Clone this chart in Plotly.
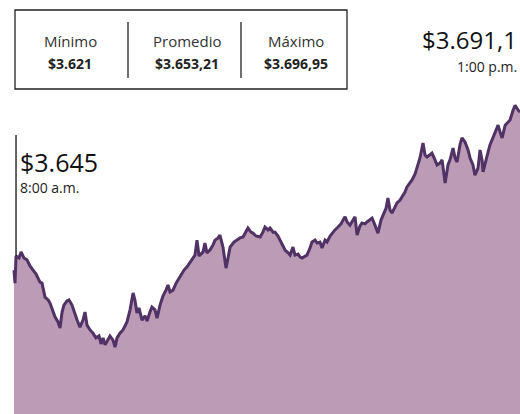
import plotly.graph_objects as go

# minutes after 8:00 a.m.
minutes = [0, 0.6, 1.2, 3.0, 4.2, 5.9, 7.7, 9.5, 11.3, 13.0, 15.4, 16.6, 18.4, 20.2, 21.3, 23.1, 24.3, 26.1, 27.3, 28.5,
           29.6, 31.4, 32.6, 34.4, 36.2, 37.4, 39.1, 40.9, 42.1, 43.3, 45.1, 46.8, 48.6, 50.4, 51.6, 52.8, 54.0, 55.7, 56.9, 58.7,
           59.9, 61.1, 62.8, 64.6, 67.0, 68.8, 70.6, 71.7, 72.9, 74.1, 75.9, 77.7, 78.9, 80.6, 81.8, 83.6, 84.8, 86.6, 88.3, 90.1,
           91.3, 92.5, 94.3, 96.1, 98.4, 100.8, 102.6, 104.3, 106.1, 107.3, 108.5, 109.7, 112.1, 113.2, 114.4, 116.2, 118.0, 119.2, 121.0, 122.1,
           123.9, 125.7, 126.9, 128.1, 130.4, 132.2, 134.0, 135.8, 137.6, 138.7, 140.5, 141.7, 143.5, 145.9, 147.6, 148.8, 150.6, 151.8, 153.6, 154.8,
           156.5, 157.7, 159.5, 160.7, 162.5, 163.7, 165.4, 166.6, 168.4, 169.6, 170.8, 172.5, 173.7, 175.5, 176.7, 178.5, 179.7, 181.4, 182.6, 184.4,
           185.6, 187.4, 188.6, 190.3, 192.1, 193.9, 195.1, 196.3, 197.5, 199.2, 201.0, 202.2, 203.4, 205.1, 206.3, 208.1, 209.3, 211.1, 212.3, 214.0,
           215.8, 217.6, 218.8, 220.6, 221.7, 222.9, 224.1, 225.9, 227.1, 228.9, 230.1, 231.8, 233.0, 234.8, 236.0, 237.8, 239.0, 240.7, 242.5, 243.7,
           244.9, 246.7, 247.8, 249.6, 250.8, 252.6, 253.8, 255.6, 257.3, 258.5, 260.3, 261.5, 262.7, 264.4, 265.6, 267.4, 269.2, 270.4, 272.1, 273.3,
           275.1, 276.3, 277.5, 278.1, 279.9, 281.1, 282.2, 284.0, 285.8, 287.0, 288.2, 289.4, 291.2, 292.9, 294.1, 295.9, 297.1, 298.9, 300.0]

prices = [3645.2, 3641.1, 3649.6, 3649.0, 3650.9, 3649.0, 3648.4, 3646.5, 3645.2, 3644.0, 3641.4, 3641.1, 3636.7, 3635.8, 3634.9, 3632.0, 3630.5, 3628.9, 3627.0, 3632.0,
          3634.2, 3635.5, 3635.8, 3634.2, 3631.1, 3629.5, 3627.3, 3629.5, 3632.0, 3627.9, 3626.4, 3625.4, 3623.9, 3624.5, 3622.0, 3623.9, 3621.7, 3623.2, 3624.5, 3623.2,
          3621.0, 3623.9, 3625.4, 3626.4, 3628.9, 3632.7, 3638.0, 3635.8, 3631.7, 3633.3, 3629.5, 3630.8, 3629.2, 3632.0, 3633.6, 3632.7, 3630.1, 3634.2, 3637.0, 3638.9,
          3640.5, 3638.3, 3638.9, 3641.1, 3643.0, 3645.2, 3646.2, 3647.7, 3649.0, 3649.9, 3654.6, 3649.6, 3650.9, 3653.7, 3650.6, 3651.5, 3653.1, 3654.6, 3655.3, 3656.2,
          3652.4, 3645.8, 3649.0, 3652.4, 3654.0, 3654.6, 3655.3, 3655.6, 3657.1, 3658.4, 3657.1, 3656.8, 3655.9, 3655.6, 3657.1, 3658.7, 3657.8, 3658.4, 3657.1, 3657.1,
          3655.9, 3654.6, 3652.4, 3651.5, 3650.6, 3649.9, 3652.4, 3649.9, 3650.2, 3649.3, 3649.0, 3649.6, 3649.9, 3652.1, 3654.0, 3654.6, 3653.7, 3654.0, 3652.1, 3654.6,
          3654.0, 3655.9, 3656.8, 3657.8, 3658.7, 3659.7, 3660.9, 3661.9, 3660.3, 3659.3, 3660.9, 3661.9, 3656.2, 3659.0, 3660.0, 3659.7, 3660.3, 3660.9, 3661.5, 3659.3,
          3656.8, 3660.9, 3662.5, 3664.7, 3667.8, 3664.1, 3663.1, 3665.0, 3666.3, 3667.2, 3668.1, 3669.7, 3671.3, 3672.5, 3673.5, 3675.4, 3677.2, 3680.4, 3685.1, 3681.3,
          3680.7, 3681.3, 3681.9, 3679.8, 3678.2, 3678.8, 3679.8, 3672.5, 3678.2, 3679.8, 3683.5, 3680.4, 3679.1, 3684.5, 3686.7, 3685.4, 3682.9, 3680.4, 3678.2, 3675.0,
          3677.2, 3682.9, 3679.8, 3676.0, 3680.4, 3682.3, 3684.5, 3687.0, 3689.2, 3690.7, 3688.5, 3686.7, 3690.7, 3691.7, 3692.3, 3695.4, 3696.95, 3695.4, 3694.8]

stat_labels = ["Mínimo", "Promedio", "Máximo"]
stat_values = ["$3.621", "$3.653,21", "$3.696,95"]
start_label = ("$3.645", "8:00 a.m.")
end_label = ("$3.691,1", "1:00 p.m.")

FILL = "rgb(188,155,183)"
LINE = "rgb(80,50,100)"
FONT = "Open Sans"
W, H = 520, 414

fig = go.Figure()
fig.add_trace(go.Scatter(x=minutes, y=prices, mode="lines", fill="tozeroy",
                         fillcolor=FILL, line=dict(color=LINE, width=3),
                         hoverinfo="skip", showlegend=False))

def px(x):
    return x / W

def py(y):
    return 1 - y / H

shapes = []
# stats box
shapes.append(dict(type="rect", xref="paper", yref="paper", x0=px(15), x1=px(347), y0=py(89), y1=py(10),
                   line=dict(color="#222", width=1.3), fillcolor="rgba(0,0,0,0)"))
for dx in (128, 241):
    shapes.append(dict(type="line", xref="paper", yref="paper", x0=px(dx), x1=px(dx), y0=py(78), y1=py(22),
                       line=dict(color="#222", width=1.3)))
# start marker line
shapes.append(dict(type="line", xref="x", yref="y", x0=1.2, x1=1.2, y0=prices[2], y1=3687.6,
                   line=dict(color="#111", width=1.3)))

annotations = []
centers = [70, 187, 296]
for c, lab, val in zip(centers, stat_labels, stat_values):
    annotations.append(dict(xref="paper", yref="paper", x=px(c), y=py(41), text=lab, showarrow=False,
                            xanchor="center", yanchor="middle", font=dict(family=FONT, size=15, color="#333")))
    annotations.append(dict(xref="paper", yref="paper", x=px(c), y=py(63), text="<b>" + val + "</b>", showarrow=False,
                            xanchor="center", yanchor="middle", font=dict(family=FONT, size=14, color="#222")))

annotations.append(dict(xref="paper", yref="paper", x=px(18), y=py(162), text=start_label[0], showarrow=False,
                        xanchor="left", yanchor="middle", font=dict(family=FONT, size=25, color="#111")))
annotations.append(dict(xref="paper", yref="paper", x=px(18), y=py(187), text=start_label[1], showarrow=False,
                        xanchor="left", yanchor="middle", font=dict(family=FONT, size=14, color="#222")))
annotations.append(dict(xref="paper", yref="paper", x=px(518), y=py(40), text=end_label[0], showarrow=False,
                        xanchor="right", yanchor="middle", borderpad=0, font=dict(family=FONT, size=24, color="#111")))
annotations.append(dict(xref="paper", yref="paper", x=px(518), y=py(66), text=end_label[1], showarrow=False,
                        xanchor="right", yanchor="middle", borderpad=0, font=dict(family=FONT, size=14, color="#222")))

fig.update_layout(
    width=W, height=H, margin=dict(l=0, r=0, t=0, b=0),
    paper_bgcolor="white", plot_bgcolor="white",
    xaxis=dict(range=[-8.3, 300], visible=False, fixedrange=True),
    yaxis=dict(range=[3600, 3730], visible=False, fixedrange=True),
    shapes=shapes, annotations=annotations,
)
fig.write_html("out.html", config={"displayModeBar": False},
               post_script="document.body.style.margin='0';document.body.style.overflow='hidden';")
